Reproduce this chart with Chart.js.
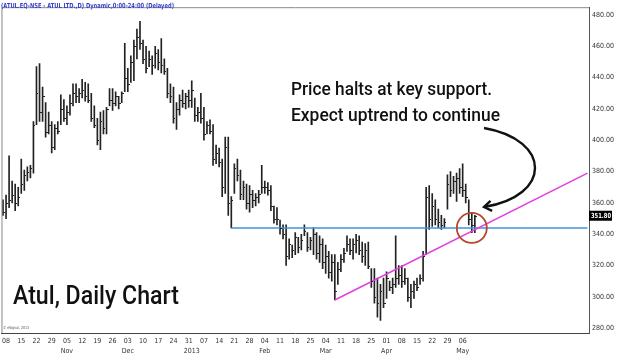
<!DOCTYPE html>
<html>
<head>
<meta charset="UTF-8">
<title>Atul, Daily Chart</title>
<script src="https://cdn.jsdelivr.net/npm/chart.js"></script>
<style>
  html, body { margin: 0; padding: 0; background: #fff; }
  #wrap { width: 620px; height: 355px; }
</style>
</head>
<body>
<div id="wrap"><canvas id="atulChart" width="620" height="355"></canvas></div>
<script>
  // one entry per weekday, first bar Fri 05 Oct 2012
  const highs = [
    362, 365, 390, 374, 372, 370, 388, 381, 383, 384,
    412, 447, 449, 434, 424, 418, 412, 410, 412, 429,
    426, 422, 429, 436, 436, 433, 439, 437, 436, 430,
    422, 414, 418, 419, 421, 433, 433, 431, 428, 431,
    462, 446, 454, 464, 471, 476, 464, 460, 457, 454,
    460, 458, 465, 452, 446, 436, 434, 424, 429, 432,
    430, 432, 438, 427, 421, 430, 421, 412, 413, 410,
    397, 395, 388, 402, 402, 364, 385, 388, 381, 374,
    372, 371, 368, 366, 368, 384, 374, 373, 371, 358,
    357, 349, 346, 346, 337, 333, 341, 338, 340, 346,
    341, 338, 344, 341, 339, 337, 333, 329, 327, 327,
    322, 327, 331, 339, 337, 337, 340, 339, 335, 334,
    335, 318, 318, 312, 308, 312, 316, 310, 312, 339,
    320, 320, 318, 312, 308, 310, 312, 314, 329, 370,
    371, 366, 362, 356, 352, 350, 378, 380, 377, 379,
    382, 385, 372, 362, 354, 352
  ];
  const lows = [
    352, 350, 357, 360, 355, 358, 366, 368, 374, 376,
    379, 410, 412, 412, 402, 404, 392, 394, 404, 410,
    412, 410, 416, 422, 424, 424, 427, 425, 424, 412,
    408, 397, 394, 404, 404, 422, 419, 422, 420, 424,
    431, 431, 437, 438, 452, 458, 449, 443, 447, 442,
    446, 445, 443, 442, 427, 424, 411, 407, 416, 421,
    420, 421, 421, 412, 412, 411, 400, 404, 404, 384,
    385, 383, 364, 366, 352, 344, 366, 374, 362, 362,
    356, 354, 357, 358, 360, 366, 366, 365, 355, 347,
    346, 340, 337, 320, 324, 325, 327, 328, 330, 339,
    329, 330, 327, 324, 322, 318, 315, 312, 310, 298,
    308, 316, 322, 329, 327, 324, 328, 327, 322, 320,
    318, 306, 296, 287, 285, 293, 299, 304, 302, 306,
    308, 306, 308, 297, 293, 299, 304, 308, 310, 327,
    343, 345, 346, 344, 343, 344, 356, 364, 366, 361,
    366, 364, 360, 346, 341, 341
  ];
  const closes = [
    354, 360, 362, 365, 360, 364, 372, 378, 380, 382,
    410, 430, 418, 428, 405, 410, 396, 408, 406, 420,
    414, 418, 424, 430, 428, 430, 432, 428, 426, 414,
    410, 400, 412, 408, 420, 426, 424, 428, 424, 430,
    440, 436, 450, 460, 466, 462, 452, 446, 452, 448,
    456, 450, 448, 444, 430, 428, 414, 420, 426, 424,
    428, 426, 432, 416, 418, 414, 404, 410, 406, 388,
    392, 386, 370, 396, 360, 362, 382, 378, 366, 370,
    360, 366, 362, 364, 366, 370, 370, 368, 358, 350,
    350, 344, 340, 326, 334, 330, 338, 332, 336, 342,
    332, 336, 340, 328, 334, 322, 326, 316, 322, 304,
    318, 324, 328, 334, 330, 334, 336, 330, 326, 330,
    320, 310, 300, 296, 304, 296, 312, 306, 308, 312,
    314, 310, 312, 300, 304, 308, 306, 312, 326, 364,
    350, 358, 350, 348, 346, 348, 372, 368, 374, 376,
    370, 368, 364, 350, 346, 351.8
  ];
  const lastPrice = 351.8;
  const supportLevel = 344;
  const supportStart = 75;      // bar index where the support line begins
  const trendStart = 109;       // bar index of the March low
  const trendStartValue = 298;
  const trendEndValue = 379;
  const haltBar = 154;          // bar circled on the chart
  const yTicks = [280, 300, 320, 340, 360, 380, 400, 420, 440, 460, 480];
  const monthMarks = {
    '2012-11-05': 'Nov', '2012-12-03': 'Dec', '2013-01-01': '2013',
    '2013-02-04': 'Feb', '2013-03-04': 'Mar', '2013-04-01': 'Apr', '2013-05-06': 'May'
  };
  const totalSlots = 193;       // weekdays shown on the axis, incl. empty space on the right

  const pad = n => String(n).padStart(2, '0');
  const days = [];
  const cur = new Date(2012, 9, 5);
  while (days.length < totalSlots) {
    const wd = cur.getDay();
    if (wd !== 0 && wd !== 6) days.push(new Date(cur));
    cur.setDate(cur.getDate() + 1);
  }
  const labels = days.map(d => d.getFullYear() + '-' + pad(d.getMonth() + 1) + '-' + pad(d.getDate()));

  const axisFont = "'Liberation Sans Narrow', 'DejaVu Sans Condensed', 'Liberation Sans', sans-serif";

  const closeTicks = {
    id: 'closeTicks',
    afterDatasetsDraw(chart) {
      const { ctx, scales: { x, y } } = chart;
      ctx.save();
      ctx.strokeStyle = '#222';
      ctx.lineWidth = 1;
      closes.forEach((c, i) => {
        const px = Math.round(x.getPixelForValue(i));
        const py = Math.round(y.getPixelForValue(c)) + 0.5;
        ctx.beginPath();
        ctx.moveTo(px, py);
        ctx.lineTo(px + 2, py);
        ctx.stroke();
      });
      ctx.restore();
    }
  };

  const notes = {
    id: 'notes',
    afterDraw(chart) {
      const { ctx, chartArea: a, scales: { x, y } } = chart;
      ctx.save();
      // frame
      ctx.strokeStyle = '#888';
      ctx.lineWidth = 1;
      ctx.beginPath();
      ctx.moveTo(a.left + 0.5, a.bottom);
      ctx.lineTo(a.left + 0.5, a.top + 0.5);
      ctx.lineTo(a.right, a.top + 0.5);
      ctx.stroke();

      // header line
      ctx.fillStyle = '#3b3fc8';
      ctx.font = 'bold 7px ' + axisFont;
      ctx.textBaseline = 'middle';
      ctx.fillText('(ATUL.EQ-NSE - ATUL LTD.,D) Dynamic,0:00-24:00 (Delayed)', 1, 6, 173);

      // copyright
      ctx.fillStyle = '#555';
      ctx.font = '4px ' + axisFont;
      ctx.fillText('\u00a9 eSignal, 2013', 3, 328, 26);

      // captions
      ctx.fillStyle = '#111';
      ctx.textBaseline = 'alphabetic';
      ctx.font = '500 25px Roboto, sans-serif';
      ctx.fillText('Atul, Daily Chart', 13, 304, 166);
      ctx.font = '500 18px Roboto, sans-serif';
      ctx.fillText('Price halts at key support.', 291, 95, 201);
      ctx.fillText('Expect uptrend to continue', 291, 121, 209);

      // circle round the halt bar
      const cx = x.getPixelForValue(haltBar);
      const cy = y.getPixelForValue(supportLevel);
      ctx.strokeStyle = '#b4472e';
      ctx.lineWidth = 1.8;
      ctx.beginPath();
      ctx.arc(cx, cy, 15, 0, Math.PI * 2);
      ctx.stroke();

      // curved arrow
      const sx = 484, sy = 128, ex = 484, ey = 207;
      const c1x = 552, c1y = 140, c2x = 552, c2y = 196;
      ctx.strokeStyle = '#111';
      ctx.lineWidth = 2.4;
      ctx.beginPath();
      ctx.moveTo(sx, sy);
      ctx.bezierCurveTo(c1x, c1y, c2x, c2y, ex, ey);
      ctx.stroke();
      const ang = Math.atan2(ey - c2y, ex - c2x);
      const len = 9;
      ctx.beginPath();
      ctx.moveTo(ex + len * Math.cos(ang + Math.PI - 0.6), ey + len * Math.sin(ang + Math.PI - 0.6));
      ctx.lineTo(ex, ey);
      ctx.lineTo(ex + len * Math.cos(ang + Math.PI + 0.6), ey + len * Math.sin(ang + Math.PI + 0.6));
      ctx.stroke();

      // last price box on the axis
      const py = y.getPixelForValue(lastPrice);
      ctx.fillStyle = '#000';
      ctx.fillRect(a.right, py - 5, 23, 10);
      ctx.fillStyle = '#fff';
      ctx.font = 'bold 7px ' + axisFont;
      ctx.textBaseline = 'middle';
      ctx.fillText(lastPrice.toFixed(2), a.right + 2, py + 0.5, 20);
      ctx.restore();
    }
  };

  new Chart(document.getElementById('atulChart'), {
    type: 'bar',
    data: {
      labels: labels,
      datasets: [
        {
          type: 'bar',
          data: lows.map((l, i) => [l, highs[i]]),
          backgroundColor: '#222',
          borderWidth: 0,
          barThickness: 1,
          grouped: false,
          order: 2
        },
        {
          type: 'line',
          data: [{ x: labels[supportStart], y: supportLevel }, { x: labels[totalSlots - 1], y: supportLevel }],
          borderColor: '#3f93d8',
          borderWidth: 1.4,
          pointRadius: 0,
          order: 1
        },
        {
          type: 'line',
          data: [{ x: labels[trendStart], y: trendStartValue }, { x: labels[totalSlots - 1], y: trendEndValue }],
          borderColor: '#e03fe0',
          borderWidth: 1.5,
          pointRadius: 0,
          order: 0
        }
      ]
    },
    options: {
      responsive: false,
      animation: false,
      layout: { padding: 0 },
      plugins: { legend: { display: false }, tooltip: { enabled: false } },
      scales: {
        x: {
          type: 'category',
          offset: true,
          grid: { display: false, drawTicks: false },
          border: { display: true, color: '#444' },
          ticks: {
            autoSkip: false,
            maxRotation: 0,
            minRotation: 0,
            padding: 3,
            color: '#333',
            font: { family: axisFont, size: 7, lineHeight: 1.45 },
            callback: function (value, index) {
              if (index >= highs.length) return '';
              const d = days[index];
              const month = monthMarks[labels[index]] || '';
              if (d.getDay() === 1) return [pad(d.getDate()), month];
              if (month) return ['', month];
              return '';
            }
          },
          afterFit: s => { s.height = 22; }
        },
        y: {
          position: 'right',
          min: 276.9,
          max: 485,
          grid: { display: false, drawTicks: false },
          border: { display: true, color: '#555' },
          afterBuildTicks: s => { s.ticks = yTicks.map(v => ({ value: v })); },
          ticks: {
            padding: 3,
            color: '#333',
            font: { family: axisFont, size: 7 },
            callback: v => Number(v).toFixed(2)
          },
          afterFit: s => { s.width = 31; }
        }
      }
    },
    plugins: [closeTicks, notes]
  });
</script>
</body>
</html>
